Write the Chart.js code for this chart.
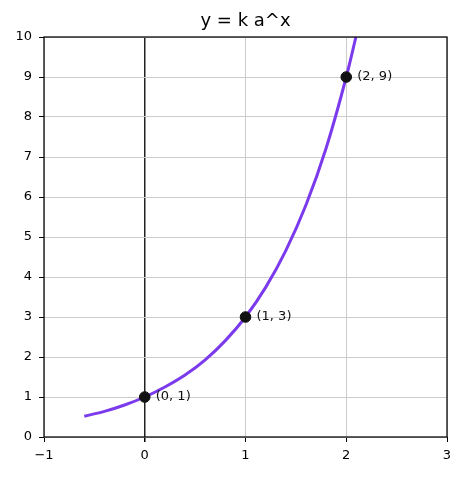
<!DOCTYPE html>
<html>
<head>
<meta charset="utf-8">
<script src="https://cdn.jsdelivr.net/npm/chart.js@4/dist/chart.umd.min.js"></script>
<style>
  html, body { margin: 0; padding: 0; background: #fff; }
  #wrap { width: 464px; height: 477px; }
</style>
</head>
<body>
<div id="wrap"><canvas id="expChart" width="464" height="477"></canvas></div>
<script>
// values
const curveX = [-0.6, -0.4, -0.2, 0, 0.2, 0.4, 0.6, 0.8, 1, 1.2, 1.4, 1.6, 1.8, 2, 2.096];
const curveY = [0.52, 0.64, 0.80, 1, 1.25, 1.55, 1.93, 2.41, 3, 3.74, 4.66, 5.80, 7.22, 9, 10];
const markX = [0, 1, 2];
const markY = [1, 3, 9];
const markLabels = ["(0, 1)", "(1, 3)", "(2, 9)"];
const xTicks = [-1, 0, 1, 2, 3];
const yTicks = [0, 1, 2, 3, 4, 5, 6, 7, 8, 9, 10];
const titleText = "y = k a^x";

const FONT = "'DejaVu Sans', sans-serif";

// frame around the plot, title centred over the plot, point labels
const framePlugin = {
    id: "frame",
    afterDatasetsDraw(chart) {
        const ctx = chart.ctx;
        const a = chart.chartArea;
        ctx.save();
        ctx.strokeStyle = "#000";
        ctx.lineWidth = 1.25;
        ctx.strokeRect(a.left, a.top, a.right - a.left, a.bottom - a.top);

        ctx.fillStyle = "#000";
        ctx.font = "18px " + FONT;
        ctx.textAlign = "center";
        ctx.textBaseline = "middle";
        ctx.fillText(titleText, (a.left + a.right) / 2, 21);

        // labels next to the points
        const meta = chart.getDatasetMeta(0);
        ctx.fillStyle = "#111";
        ctx.font = "13px " + FONT;
        ctx.textAlign = "left";
        meta.data.forEach(function (pt, i) {
            ctx.fillText(markLabels[i], pt.x + 11, pt.y);
        });
        ctx.restore();
    }
};

const ctx = document.getElementById("expChart").getContext("2d");
new Chart(ctx, {
    type: "scatter",
    data: {
        datasets: [
            {
                label: "points",
                data: markX.map((x, i) => ({ x: x, y: markY[i] })),
                backgroundColor: "#111111",
                borderColor: "#111111",
                pointRadius: 5.3,
                showLine: false
            },
            {
                label: "curve",
                data: curveX.map((x, i) => ({ x: x, y: curveY[i] })),
                borderColor: "#7b3aec",
                borderWidth: 3,
                pointRadius: 0,
                showLine: true,
                cubicInterpolationMode: "monotone"
            }
        ]
    },
    options: {
        responsive: false,
        animation: false,
        layout: { padding: { left: 0, right: 17, top: 37, bottom: 0 } },
        plugins: {
            legend: { display: false },
            tooltip: { enabled: false },
            title: { display: false }
        },
        scales: {
            x: {
                type: "linear",
                min: -1,
                max: 3,
                afterBuildTicks: function (s) { s.ticks = xTicks.map(v => ({ value: v })); },
                afterFit: function (s) { s.height = 40; },
                ticks: {
                    color: "#000",
                    font: { family: FONT, size: 13 },
                    padding: 6,
                    callback: v => String(v).replace("-", "\u2212")
                },
                grid: {
                    color: c => (c.tick && c.tick.value === 0) ? "#222" : "#cccccc",
                    lineWidth: c => (c.tick && c.tick.value === 0) ? 1.5 : 1,
                    tickColor: "#000",
                    tickLength: 5
                },
                border: { display: false }
            },
            y: {
                type: "linear",
                min: 0,
                max: 10,
                afterBuildTicks: function (s) { s.ticks = yTicks.map(v => ({ value: v })); },
                afterFit: function (s) { s.width = 44; },
                ticks: {
                    color: "#000",
                    font: { family: FONT, size: 13 },
                    padding: 7
                },
                grid: {
                    color: "#cccccc",
                    tickColor: "#000",
                    tickLength: 5
                },
                border: { display: false }
            }
        }
    },
    plugins: [framePlugin]
});
</script>
</body>
</html>
